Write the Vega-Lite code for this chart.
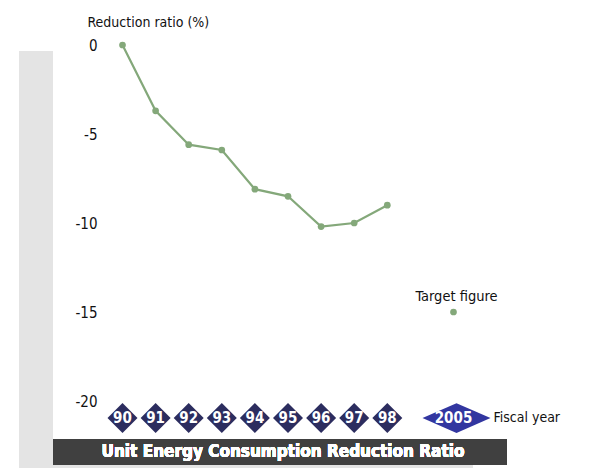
{
  "$schema": "https://vega.github.io/schema/vega-lite/v6.json",
  "width": 376,
  "height": 356,
  "autosize": {"type": "none"},
  "padding": {"left": 100, "top": 45, "right": 115, "bottom": 67},
  "background": "white",
  "config": {
    "view": {"stroke": null},
    "font": "DejaVu Sans Condensed",
    "axis": {"grid": false}
  },
  "data": {
    "values": [
      {"fy": "90", "ratio": 0, "kind": "actual", "note": ""},
      {"fy": "91", "ratio": -3.7, "kind": "actual", "note": ""},
      {"fy": "92", "ratio": -5.6, "kind": "actual", "note": ""},
      {"fy": "93", "ratio": -5.9, "kind": "actual", "note": ""},
      {"fy": "94", "ratio": -8.1, "kind": "actual", "note": ""},
      {"fy": "95", "ratio": -8.5, "kind": "actual", "note": ""},
      {"fy": "96", "ratio": -10.2, "kind": "actual", "note": ""},
      {"fy": "97", "ratio": -10.0, "kind": "actual", "note": ""},
      {"fy": "98", "ratio": -9.0, "kind": "actual", "note": ""},
      {"fy": "2005", "ratio": -15, "kind": "target", "note": "Target figure"}
    ]
  },
  "encoding": {
    "x": {
      "field": "fy",
      "type": "ordinal",
      "sort": null,
      "scale": {"type": "point", "domain": ["90", "91", "92", "93", "94", "95", "96", "97", "98", "gap", "2005"], "padding": 0.68},
      "axis": {
        "labels": false, "ticks": false, "domain": false,
        "title": "Fiscal year", "titleFont": "DejaVu Sans Condensed", "titleFontWeight": "normal", "titleFontSize": 14, "titleColor": "#111111",
        "titleAlign": "left", "titleBaseline": "middle", "titleAnchor": null,
        "titleX": 393, "titleY": 16
      }
    },
    "y": {
      "field": "ratio",
      "type": "quantitative",
      "scale": {"domain": [-20, 0], "nice": false, "zero": false},
      "axis": {
        "values": [0, -5, -10, -15, -20],
        "labelExpr": "'' + datum.value",
        "domain": false, "ticks": false, "labelPadding": 3,
        "labelFont": "DejaVu Sans Condensed", "labelFontSize": 15, "labelColor": "#111111",
        "title": "Reduction ratio (%)", "titleFont": "DejaVu Sans Condensed", "titleFontWeight": "normal", "titleFontSize": 14, "titleColor": "#111111",
        "titleAngle": 0, "titleAlign": "left", "titleBaseline": "middle", "titleAnchor": null,
        "titleX": -13, "titleY": -23
      }
    }
  },
  "layer": [
    {
      "mark": {"type": "rect", "color": "#e4e4e4", "xOffset": -103.5, "x2Offset": -69.5},
      "encoding": {"x": {"datum": "90"}, "x2": {"datum": "90"}, "y": {"datum": -0.34}, "y2": {"datum": -24}}
    },
    {
      "mark": {"type": "rect", "color": "#e4e4e4", "xOffset": -103.5, "x2Offset": 19.5},
      "encoding": {"x": {"datum": "90"}, "x2": {"datum": "2005"}, "y": {"datum": -23.55}, "y2": {"datum": -24}}
    },
    {
      "mark": {"type": "rect", "color": "#404040", "xOffset": -69.5, "x2Offset": 53.5},
      "encoding": {"x": {"datum": "90"}, "x2": {"datum": "2005"}, "y": {"datum": -22.13}, "y2": {"datum": -23.6}}
    },
    {
      "mark": {"type": "text", "color": "white", "fontWeight": "bold", "fontSize": 17, "align": "center", "baseline": "middle", "dx": -5},
      "encoding": {"x": {"datum": "95"}, "y": {"datum": -22.87}, "text": {"value": "Unit Energy Consumption Reduction Ratio"}}
    },
    {
      "transform": [{"filter": "datum.kind === 'actual'"}],
      "mark": {"type": "line", "color": "#84a87a", "strokeWidth": 2.2},
      "encoding": {}
    },
    {
      "mark": {"type": "point", "shape": "circle", "filled": true, "color": "#84a87a", "size": 45, "opacity": 1}
    },
    {
      "transform": [{"filter": "datum.kind === 'target'"}],
      "mark": {"type": "text", "fontSize": 14.5, "color": "#111111", "baseline": "middle", "dy": -15, "dx": 3},
      "encoding": {"text": {"field": "note"}}
    },
    {
      "transform": [{"filter": "datum.kind === 'actual'"}],
      "mark": {"type": "point", "shape": "diamond", "filled": true, "color": "#2c2d5f", "size": 900, "opacity": 1},
      "encoding": {"y": {"datum": -20.96}}
    },
    {
      "transform": [{"filter": "datum.kind === 'target'"}],
      "mark": {"type": "point", "shape": "M-1,0L0,-0.44L1,0L0,0.44Z", "filled": true, "color": "#3236a0", "size": 4624, "opacity": 1, "xOffset": 3},
      "encoding": {"y": {"datum": -20.96}}
    },
    {
      "mark": {"type": "text", "color": "white", "fontWeight": "bold", "fontSize": 15, "align": "center", "baseline": "middle"},
      "encoding": {"y": {"datum": -20.96}, "text": {"field": "fy"}}
    }
  ]
}
